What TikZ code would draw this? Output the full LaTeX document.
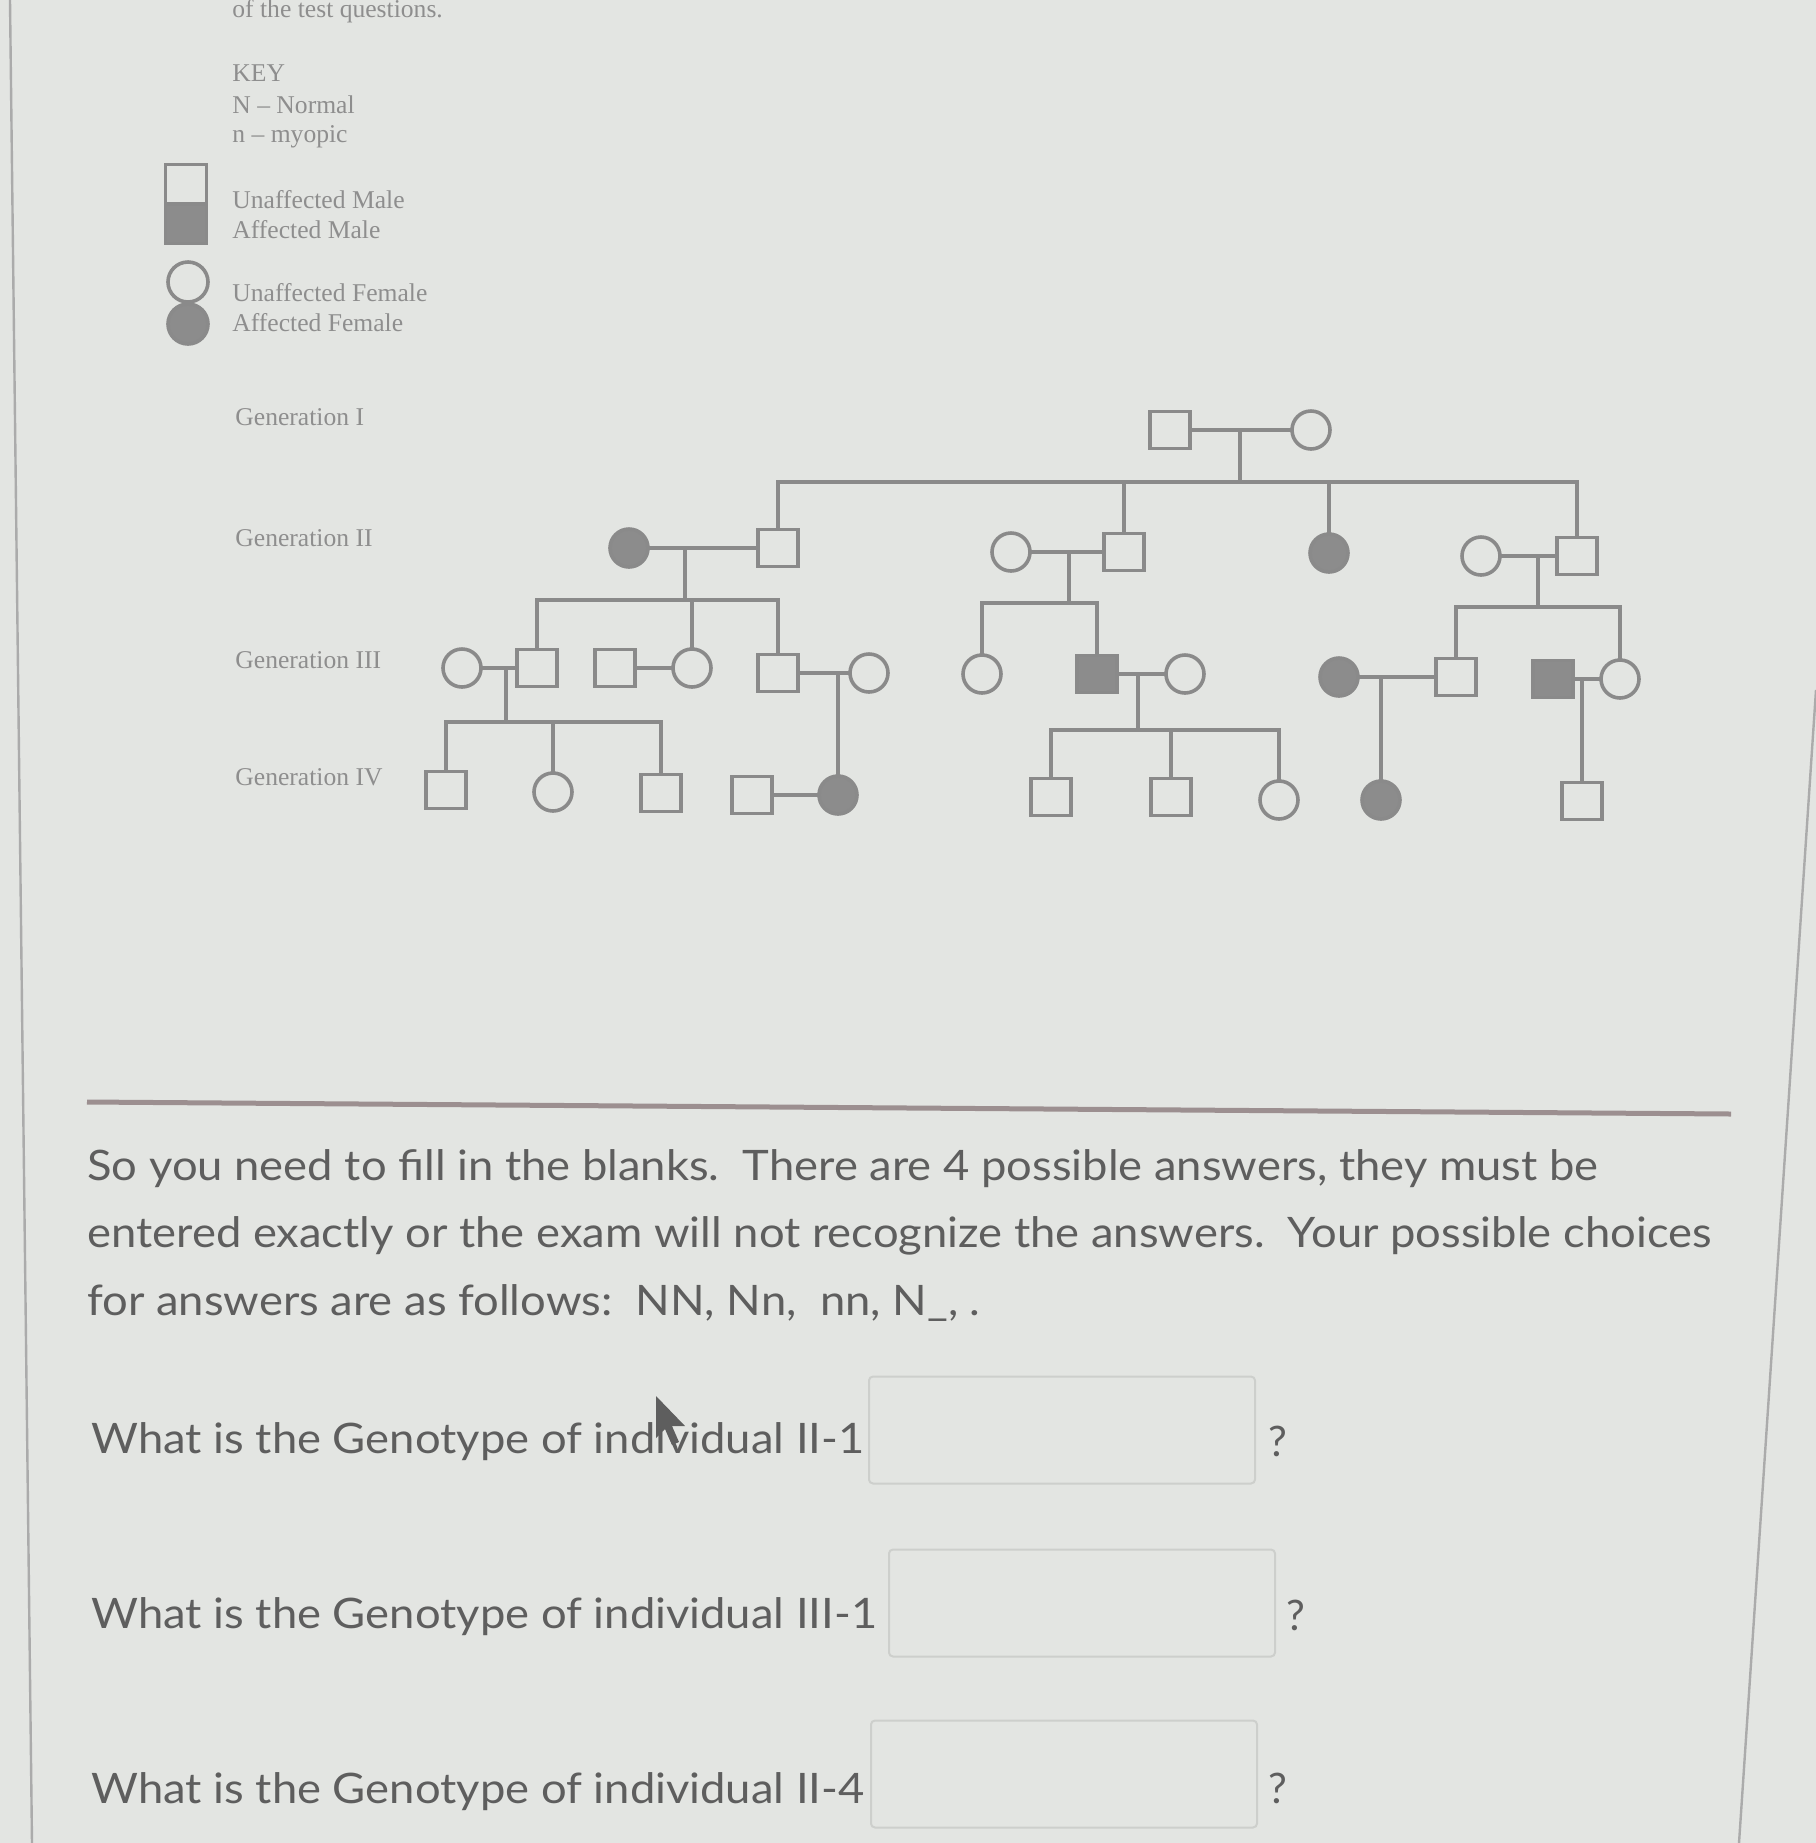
\documentclass[tikz,border=0pt]{standalone}
\usepackage{fontspec}
\setmainfont{Liberation Serif}
\newfontfamily\canvasfont{Lato}
\definecolor{paper}{HTML}{E3E5E2}
\definecolor{pedline}{HTML}{8A8A8A}
\definecolor{affect}{HTML}{8C8C8C}
\definecolor{keytext}{HTML}{8E8E8E}
\definecolor{qtext}{HTML}{5E5E5E}
\definecolor{rulecol}{HTML}{9C8F90}
\definecolor{boxline}{HTML}{CDCFCC}
\definecolor{edgeline}{HTML}{ABABAB}
\newcommand{\widetext}[1]{\scalebox{1.08}[1]{#1}}
\begin{document}
\begin{tikzpicture}[x=0.5pt,y=-0.5pt,
  ped/.style={draw=pedline,line width=1.8pt,inner sep=0pt,outer sep=0pt},
  male/.style={ped,rectangle,minimum width=20pt,minimum height=18.5pt},
  female/.style={ped,circle,minimum size=19pt},
  affected/.style={fill=affect},
  link/.style={draw=pedline,line width=1.8pt},
  keylabel/.style={anchor=west,text=keytext,inner sep=0pt,font=\fontsize{12.8}{15}\selectfont},
  para/.style={anchor=base west,text=qtext,inner sep=0pt,font=\canvasfont\fontsize{21}{25}\selectfont},
  answer/.style={draw=boxline,line width=1pt,rounded corners=2pt,minimum width=193pt,minimum height=53.5pt}]
\fill[paper] (0,0) rectangle (1816,1843);
\useasboundingbox (0,0) rectangle (1816,1843);
\draw[edgeline,line width=1.2pt] (10,0) -- (32,1843);
\draw[edgeline,line width=1.2pt] (1816,690) -- (1739,1843);
\node[keylabel,anchor=base west] (intro) at (232,17) {of the test questions.};
\node[keylabel] (keyhead) at (232,73) {KEY};
\node[keylabel] (keyN) at (232,105) {N -- Normal};
\node[keylabel] (keyn) at (232,137) {n -- myopic};
\node[male,minimum width=20.5pt,minimum height=19.5pt] (keym) at (186,184) {};
\node[male,affected,minimum width=20.5pt,minimum height=19.5pt] (keyam) at (186,224) {};
\node[female,minimum size=20pt] (keyf) at (188,282) {};
\node[female,affected,minimum size=20pt] (keyaf) at (188,324) {};
\node[keylabel] (lm) at (232,200) {Unaffected Male};
\node[keylabel] (lam) at (232,230) {Affected Male};
\node[keylabel] (lf) at (232,293) {Unaffected Female};
\node[keylabel] (laf) at (232,323) {Affected Female};
\node[keylabel] (gen1) at (235,417) {Generation I};
\node[keylabel] (gen2) at (235,538) {Generation II};
\node[keylabel] (gen3) at (235,660) {Generation III};
\node[keylabel] (gen4) at (235,777) {Generation IV};
\node[male] (i1) at (1170,430) {};
\node[female] (i2) at (1311,430) {};
\node[female,affected] (ii1) at (629,548) {};
\node[male] (ii2) at (778,548) {};
\node[female] (ii3) at (1011,552) {};
\node[male] (ii4) at (1124,552) {};
\node[female,affected] (ii6) at (1329,553) {};
\node[female] (ii7) at (1481,556) {};
\node[male] (ii8) at (1577,556) {};
\node[female] (iii1) at (462,668) {};
\node[male] (iii2) at (537,668) {};
\node[male] (iii3) at (615,668) {};
\node[female] (iii4) at (692,668) {};
\node[male] (iii5) at (778,673) {};
\node[female] (iii6) at (869,673) {};
\node[female] (iii7) at (982,674) {};
\node[male,affected] (iii8) at (1097,674) {};
\node[female] (iii9) at (1185,674) {};
\node[female,affected] (iii10) at (1339,677) {};
\node[male] (iii11) at (1456,677) {};
\node[male,affected] (iii12) at (1553,679) {};
\node[female] (iii13) at (1620,679) {};
\node[male] (iv1) at (446,790) {};
\node[female] (iv2) at (553,792) {};
\node[male] (iv3) at (661,793) {};
\node[male] (iv4) at (752,795) {};
\node[female,affected] (iv5) at (838,795) {};
\node[male] (iv6) at (1051,797) {};
\node[male] (iv7) at (1171,797) {};
\node[female] (iv8) at (1279,800) {};
\node[female,affected] (iv9) at (1381,800) {};
\node[male] (iv10) at (1582,801) {};
\coordinate (m1) at (1240,430);
\coordinate (m2) at (685,548);
\coordinate (m3) at (1069,552);
\coordinate (m4) at (1538,556);
\coordinate (m5) at (506,668);
\coordinate (m6) at (838,673);
\coordinate (m7) at (1138,674);
\coordinate (m8) at (1381,677);
\coordinate (m9) at (1582,679);
\coordinate (s2) at (1240,482);
\coordinate (s3a) at (685,600);
\coordinate (s3b) at (1069,603);
\coordinate (s3c) at (1538,607);
\coordinate (s4a) at (506,722);
\coordinate (s4b) at (1138,730);
\foreach \a/\b in {i1/i2,ii1/ii2,ii3/ii4,ii7/ii8,iii1/iii2,iii3/iii4,iii5/iii6,iii8/iii9,iii10/iii11,iii12/iii13,iv4/iv5}
  \draw[link] (\a) -- (\b);
\foreach \m/\s in {m1/s2,m2/s3a,m3/s3b,m4/s3c,m5/s4a,m7/s4b}
  \draw[link] (\m) -- (\m |- \s);
\draw[link] (m6) -- (iv5.north);
\draw[link] (m8) -- (iv9.north);
\draw[link] (m9) -- (iv10.north);
\draw[link] (ii2.north) -- (ii2.north |- s2) -- (ii8.north |- s2) -- (ii8.north);
\draw[link] (iii2.north) -- (iii2.north |- s3a) -- (iii5.north |- s3a) -- (iii5.north);
\draw[link] (iii7.north) -- (iii7.north |- s3b) -- (iii8.north |- s3b) -- (iii8.north);
\draw[link] (iii11.north) -- (iii11.north |- s3c) -- (iii13.north |- s3c) -- (iii13.north);
\draw[link] (iv1.north) -- (iv1.north |- s4a) -- (iv3.north |- s4a) -- (iv3.north);
\draw[link] (iv6.north) -- (iv6.north |- s4b) -- (iv8.north |- s4b) -- (iv8.north);
\foreach \c/\s in {ii4/s2,ii6/s2,iii4/s3a,iv2/s4a,iv7/s4b}
  \draw[link] (\c.north) -- (\c.north |- \s);
\draw[rulecol,line width=2.5pt] (87,1102) -- (1731,1114);
\node[para] (p1) at (87,1180) {\widetext{So you need to fill in the blanks.\ \ There are 4 possible answers, they must be}};
\node[para] (p2) at (87,1247) {\widetext{entered exactly or the exam will not recognize the answers.\ \ Your possible choices}};
\node[para] (p3) at (87,1315) {\widetext{for answers are as follows:\ \ NN, Nn,\ \ nn, N\_, .}};
\node[para] (q1) at (91,1453) {\widetext{What is the Genotype of individual II-1}};
\node[para] (q2) at (91,1628) {\widetext{What is the Genotype of individual III-1}};
\node[para] (q3) at (91,1803) {\widetext{What is the Genotype of individual II-4}};
\node[answer] (a1) at (1062,1430) {};
\node[answer] (a2) at (1082,1603) {};
\node[answer] (a3) at (1064,1774) {};
\node[para] (qm1) at (1268,1456) {?};
\node[para] (qm2) at (1286,1630) {?};
\node[para] (qm3) at (1268,1803) {?};
\fill[qtext] (656,1396) -- (656,1438) -- (665,1429) -- (672,1445) -- (679,1442) -- (672,1426) -- (685,1426) -- cycle;
\end{tikzpicture}
\end{document}
